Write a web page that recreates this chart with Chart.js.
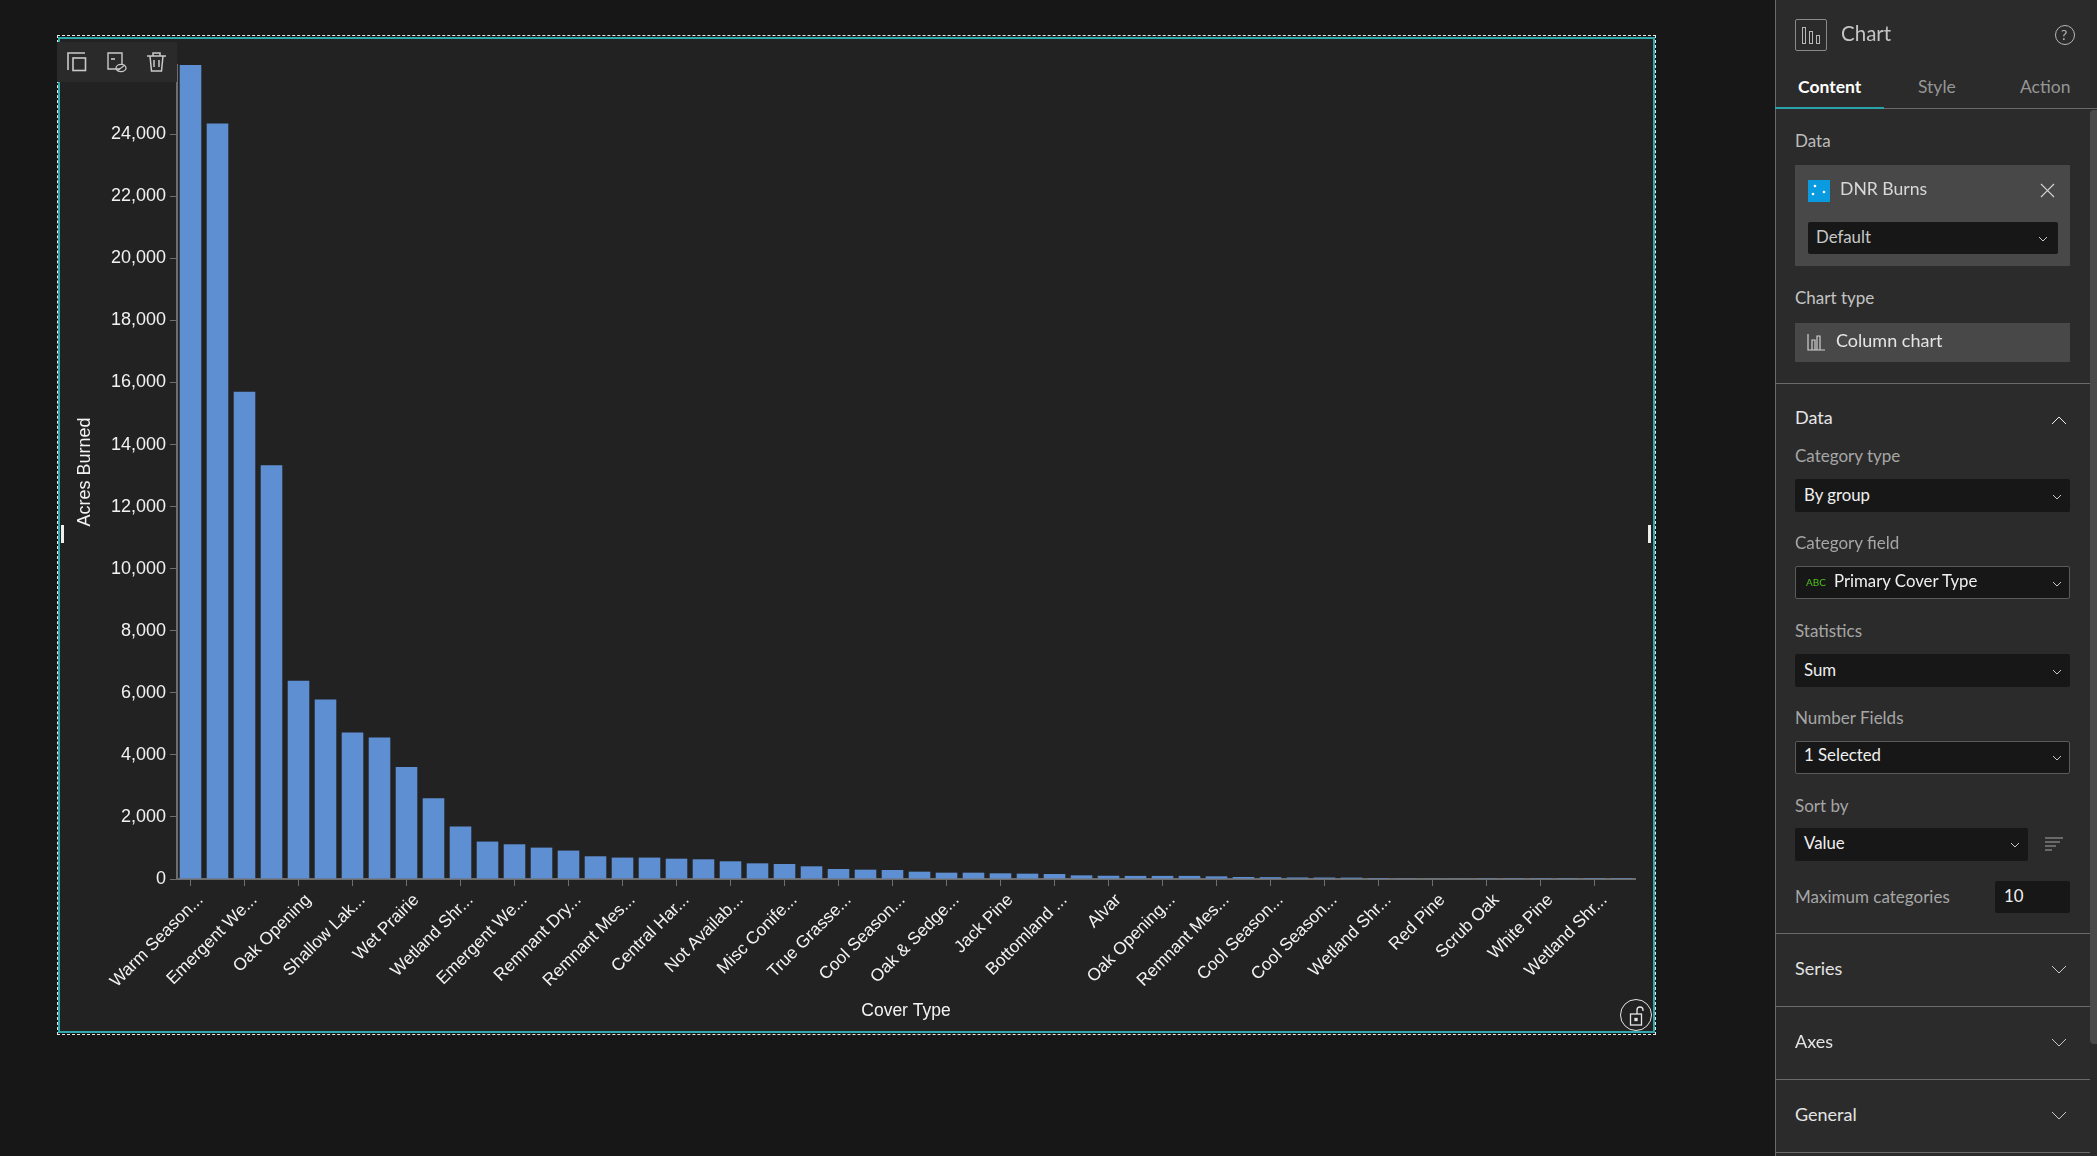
<!DOCTYPE html>
<html><head><meta charset="utf-8">
<script src="https://cdn.jsdelivr.net/npm/chart.js@4"></script>
<style>
html,body{margin:0;padding:0;background:#171717;width:2097px;height:1156px;overflow:hidden;font-family:Lato,"Noto Sans",sans-serif}
.a{position:absolute}
.t{position:absolute;white-space:nowrap;transform:translateY(-50%);line-height:1;margin-top:-1px}
.lab{color:#a6a6a6;font-size:17px;left:1795px}
.hd{color:#e4e4e4;font-size:18px;left:1795px}
.sel{position:absolute;background:#171717;border-radius:2px;box-sizing:border-box}
.bd{border:1px solid #5a5a5a}
.val{color:#f0f0f0;font-size:16.8px}
.div{position:absolute;left:1775px;width:315px;height:1px;background:#6a6a6a}
svg{position:absolute;overflow:visible}
</style></head><body>
<div class="a" style="left:57px;top:35px;width:1599px;height:1000px;box-sizing:border-box;border:1px dashed #e8e8e8"></div>
<div class="a" style="left:58px;top:37px;width:1597px;height:996px;box-sizing:border-box;border:2px solid #2fa9ab;background:#222"></div>
<div class="a" style="left:60px;top:38px;width:1593px;height:992px"><canvas id="c" style="display:block"></canvas></div>

<!-- toolbar -->
<div class="a" style="left:57px;top:42px;width:120px;height:40px;background:#2a2a2a"></div>
<svg style="left:0;top:0" width="10" height="10" fill="none" stroke="#c9c9c9" stroke-width="1.6">
<path d="M68 70V53h17"/><rect x="73" y="58" width="12.5" height="12.5"/>
<path d="M120 69h-12V53h14v12" stroke-width="1.4"/><path d="M111 59h4" /><ellipse cx="121" cy="68" rx="5" ry="3.6" stroke-width="1.3"/><path d="M117 71l8-6" stroke-width="1.2"/>
<path d="M147 56h19M153 56v-3h7v3M150 56l1.5 15h10l1.5-15M154 60v7M159 60v7" stroke-width="1.5"/>
</svg>
<!-- handles -->
<div class="a" style="left:61px;top:525px;width:3px;height:18px;background:#eee"></div>
<div class="a" style="left:1648px;top:525px;width:3px;height:18px;background:#eee"></div>
<!-- lock -->
<div class="a" style="left:1620px;top:999px;width:32px;height:32px;border-radius:50%;background:#222;border:1px solid #e6e6e6;box-sizing:border-box"></div>
<svg style="left:0;top:0" width="10" height="10" fill="none" stroke="#e6e6e6" stroke-width="1.3">
<rect x="1630.5" y="1014" width="11" height="11"/><path d="M1637 1014v-4a3 3 0 0 1 6 0v1"/><rect x="1635" y="1018.5" width="2" height="2" fill="#e6e6e6"/>
</svg>

<!-- panel -->
<div class="a" style="left:1775px;top:0;width:322px;height:1156px;background:#2b2b2b;border-left:1px solid #6a6a6a;box-sizing:border-box"></div>
<div class="a" style="left:2090px;top:110px;width:7px;height:934px;background:#4a4a4a;border-radius:4px 0 0 4px"></div>
<svg style="left:0;top:0" width="10" height="10" fill="none" stroke="#b8b8b8" stroke-width="1">
<rect x="1795.5" y="19.5" width="31" height="31" rx="1.5" stroke="#8a8a8a"/>
<rect x="1802.5" y="27.5" width="3" height="16"/><rect x="1809.5" y="31.5" width="3" height="12"/><rect x="1816.5" y="35.5" width="3" height="8"/>
<circle cx="2065" cy="35" r="9.5"/>
</svg>
<div class="t" style="left:1841px;top:34px;font-size:20.5px;color:#c4c4c4">Chart</div>
<div class="t" style="left:2061px;top:36px;font-size:14px;color:#b8b8b8">?</div>
<div class="t" style="left:1798px;top:88px;font-size:17.5px;color:#fff;font-weight:700">Content</div>
<div class="t" style="left:1918px;top:88px;font-size:17.5px;color:#969696">Style</div>
<div class="t" style="left:2020px;top:88px;font-size:17.5px;color:#969696">Action</div>
<div class="a" style="left:1775px;top:108px;width:322px;height:1px;background:#6a6a6a"></div>
<div class="a" style="left:1775px;top:107px;width:109px;height:2px;background:#2aa4a8"></div>

<div class="t lab" style="top:141px;color:#bcbcbc">Data</div>
<div class="a" style="left:1795px;top:165px;width:275px;height:101px;background:#484848"></div>
<div class="a" style="left:1808px;top:180px;width:22px;height:22px;background:#0a9ae0"></div>
<svg style="left:0;top:0" width="10" height="10" fill="#fff"><circle cx="1815" cy="186" r="1.3"/><circle cx="1813" cy="194" r="1.3"/><circle cx="1824" cy="192" r="1.3"/></svg>
<div class="t" style="left:1840px;top:190px;font-size:17.6px;color:#d8d8d8">DNR Burns</div>
<svg style="left:0;top:0" width="10" height="10" stroke="#d8d8d8" stroke-width="1.1" fill="none"><path d="M2041 184l13 13M2054 184l-13 13"/></svg>
<div class="sel" style="left:1808px;top:222px;width:250px;height:32px"></div>
<div class="t val" style="left:1816px;top:238px;color:#c8c8c8">Default</div>

<div class="t lab" style="top:298px;color:#c4c4c4">Chart type</div>
<div class="a" style="left:1795px;top:323px;width:275px;height:39px;background:#484848"></div>
<svg style="left:0;top:0" width="10" height="10" fill="none" stroke="#d0d0d0" stroke-width="1.2"><path d="M1808 334v16h17M1812 350v-10h3v10M1817 350v-14h3v14"/></svg>
<div class="t" style="left:1836px;top:341px;font-size:18px;color:#e4e4e4">Column chart</div>
<div class="div" style="top:383px"></div>

<div class="t hd" style="top:418px;color:#e6e6e6">Data</div>
<div class="t lab" style="top:456px">Category type</div>
<div class="sel" style="left:1795px;top:479px;width:275px;height:33px"></div>
<div class="t val" style="left:1804px;top:496px">By group</div>
<div class="t lab" style="top:543px">Category field</div>
<div class="sel bd" style="left:1795px;top:566px;width:275px;height:33px"></div>
<div class="t" style="left:1806px;top:583px;font-size:10px;color:#4fc21e">ABC</div>
<div class="t val" style="left:1834px;top:582px">Primary Cover Type</div>
<div class="t lab" style="top:631px">Statistics</div>
<div class="sel" style="left:1795px;top:654px;width:275px;height:33px"></div>
<div class="t val" style="left:1804px;top:671px">Sum</div>
<div class="t lab" style="top:718px">Number Fields</div>
<div class="sel bd" style="left:1795px;top:741px;width:275px;height:33px"></div>
<div class="t val" style="left:1804px;top:756px">1 Selected</div>
<div class="t lab" style="top:806px">Sort by</div>
<div class="sel" style="left:1795px;top:828px;width:233px;height:33px"></div>
<div class="t val" style="left:1804px;top:844px">Value</div>
<svg style="left:0;top:0" width="10" height="10" stroke="#a8a8a8" stroke-width="1" fill="none"><path d="M2045 838h18M2045 842h15M2045 846h11M2045 850h7"/></svg>
<div class="t lab" style="top:897px">Maximum categories</div>
<div class="sel" style="left:1995px;top:881px;width:75px;height:32px"></div>
<div class="t val" style="left:2004px;top:897px">10</div>
<div class="div" style="top:933px"></div>
<div class="t hd" style="top:969px">Series</div>
<div class="div" style="top:1006px"></div>
<div class="t hd" style="top:1042px">Axes</div>
<div class="div" style="top:1079px"></div>
<div class="t hd" style="top:1115px">General</div>
<div class="div" style="top:1152px"></div>
<svg style="left:0;top:0" width="10" height="10" fill="none" stroke="#c8c8c8" stroke-width="1">
<path d="M2052 424l7-7 7 7" stroke="#eee"/>
<path d="M2052 966l7 7 7-7M2052 1039l7 7 7-7M2052 1112l7 7 7-7"/>
<path d="M2039 237l4 4 4-4M2053 495l4 4 4-4M2053 582l4 4 4-4M2053 670l4 4 4-4M2053 756l4 4 4-4M2011 843l4 4 4-4"/>
</svg>

<script>
const categories = [
 "Warm Season...","","Emergent We...","","Oak Opening","","Shallow Lak...","","Wet Prairie","",
 "Wetland Shr...","","Emergent We...","","Remnant Dry...","","Remnant Mes...","","Central Har...","",
 "Not Availab...","","Misc Conife...","","True Grasse...","","Cool Season...","","Oak & Sedge...","",
 "Jack Pine","","Bottomland ...","","Alvar","","Oak Opening...","","Remnant Mes...","",
 "Cool Season...","","Cool Season...","","Wetland Shr...","","Red Pine","","Scrub Oak","",
 "White Pine","","Wetland Shr...",""];
const acresBurned = [
 26232,24345,15704,13333,6387,5786,4722,4560,3613,2603,
 1690,1206,1119,1012,916,732,690,690,655,635,
 570,505,484,409,323,301,290,236,204,204,
 183,172,161,118,105,100,100,100,86,65,
 60,50,48,45,32,25,12,10,4,3,
 2,2,1,1];
const yTickValues = [0,2000,4000,6000,8000,10000,12000,14000,16000,18000,20000,22000,24000,26000];
const yMax = 26232;
const axisGrey = '#6e6e6e', textWhite = '#f2f2f2', barBlue = '#5e8fd2';

new Chart(document.getElementById('c'),{
 type:'bar',
 data:{labels:categories,datasets:[{label:'Acres Burned',data:acresBurned,backgroundColor:barBlue,
   categoryPercentage:1,barPercentage:0.8}]},
 options:{
  responsive:true,maintainAspectRatio:false,animation:false,
  layout:{padding:{top:27,right:18,bottom:0,left:0}},
  plugins:{legend:{display:false},tooltip:{enabled:false}},
  scales:{
   x:{
    afterFit(s){s.height=151},
    grid:{drawOnChartArea:false,color:axisGrey,tickColor:axisGrey,tickLength:7,offset:false},
    border:{color:axisGrey,width:2},
    ticks:{autoSkip:true,maxTicksLimit:27,autoSkipPadding:0,minRotation:45,maxRotation:45,color:textWhite,
      padding:4,labelOffset:10,font:{family:'"Liberation Sans"',size:17.3}},
    title:{display:true,text:'Cover Type',color:textWhite,font:{family:'"Liberation Sans"',size:17.5},padding:{top:0,bottom:8}}
   },
   y:{
    min:0,max:yMax,
    afterBuildTicks(s){s.ticks=yTickValues.map(v=>({value:v}))},
    afterFit(s){s.width=117},
    grid:{drawOnChartArea:false,color:axisGrey,tickColor:axisGrey,tickLength:7},
    border:{color:axisGrey,width:2},
    ticks:{color:textWhite,padding:4,font:{family:'"Liberation Sans"',size:18},
      callback:v=>v.toLocaleString('en-US')},
    title:{display:true,text:'Acres Burned',color:textWhite,font:{family:'"Liberation Sans"',size:18},padding:{top:14,bottom:0}}
   }
  }
 }
});
</script>
</body></html>
